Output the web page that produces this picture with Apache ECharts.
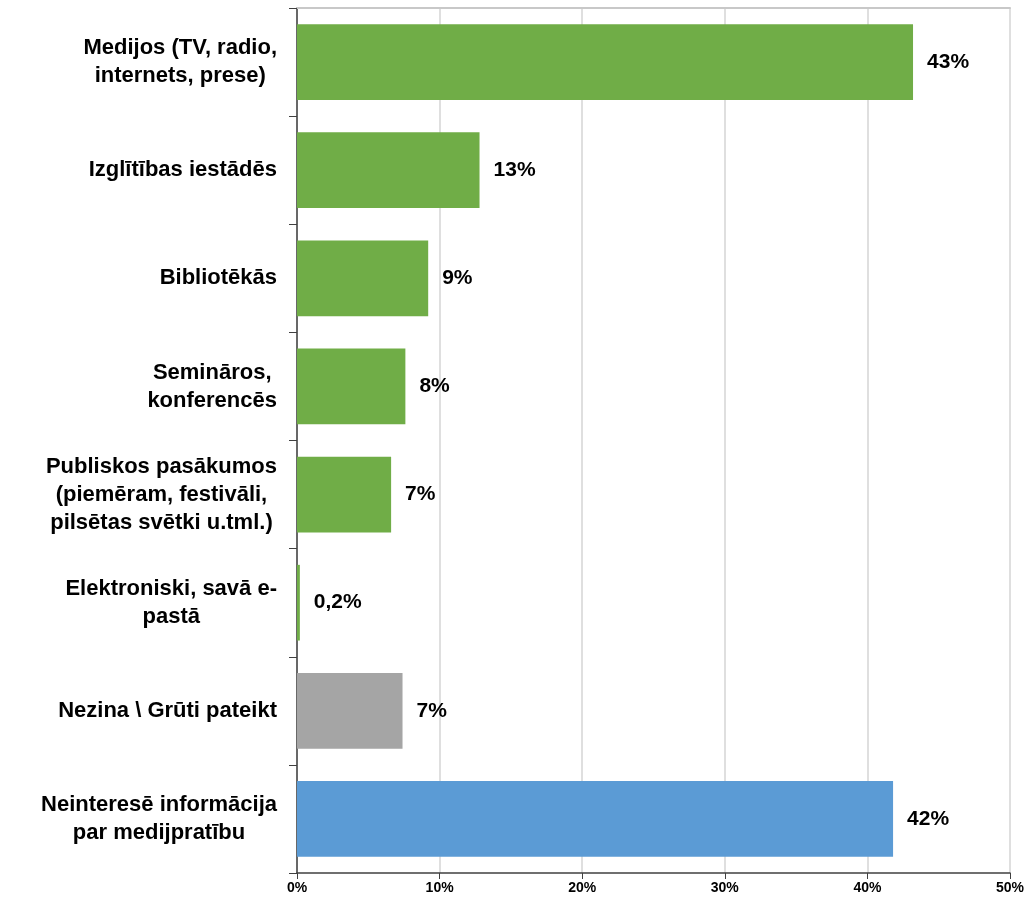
<!DOCTYPE html>
<html>
<head>
<meta charset="utf-8">
<script src="https://cdn.jsdelivr.net/npm/echarts@6/dist/echarts.min.js"></script>
<style>
html,body{margin:0;padding:0;background:#fff;}
#chart{width:1028px;height:899px;}
</style>
</head>
<body>
<div id="chart"></div>
<script>
const categories = [
  "Medijos (TV, radio,\ninternets, prese)",
  "Izglītības iestādēs",
  "Bibliotēkās",
  "Semināros,\nkonferencēs",
  "Publiskos pasākumos\n(piemēram, festivāli,\npilsētas svētki u.tml.)",
  "Elektroniski, savā e-\npastā",
  "Nezina \\ Grūti pateikt",
  "Neinteresē informācija\npar medijpratību"
];
const values = [43.2, 12.8, 9.2, 7.6, 6.6, 0.2, 7.4, 41.8];
const valueLabels = ["43%", "13%", "9%", "8%", "7%", "0,2%", "7%", "42%"];
const barColors = ["#70AD47", "#70AD47", "#70AD47", "#70AD47", "#70AD47", "#70AD47", "#A5A5A5", "#5B9BD5"];
const xTicks = [0, 10, 20, 30, 40, 50];

const chart = echarts.init(document.getElementById('chart'));
const fontFam = "'Liberation Sans', Arial, sans-serif";
chart.setOption({
  animation: false,
  backgroundColor: '#ffffff',
  grid: {left: 297, right: 18, top: 8, bottom: 26, containLabel: false},
  xAxis: [{
    type: 'value',
    min: xTicks[0],
    max: xTicks[xTicks.length - 1],
    interval: xTicks[1] - xTicks[0],
    position: 'bottom',
    axisLine: {show: true, lineStyle: {color: '#404040', width: 1.5}},
    axisTick: {show: true, length: 6, lineStyle: {color: '#404040'}},
    splitLine: {show: true, lineStyle: {color: '#d4d4d4', width: 1.5}},
    axisLabel: {
      formatter: v => v + '%',
      fontFamily: "'Liberation Sans Narrow', 'Liberation Sans', sans-serif",
      fontWeight: 'bold', fontSize: 14, color: '#000', margin: 8
    }
  }, {
    type: 'value',
    min: xTicks[0],
    max: xTicks[xTicks.length - 1],
    position: 'top',
    axisLine: {show: true, lineStyle: {color: '#c8c8c8', width: 2}},
    axisTick: {show: false},
    axisLabel: {show: false},
    splitLine: {show: false}
  }],
  yAxis: {
    type: 'category',
    inverse: true,
    data: categories,
    axisLine: {show: true, lineStyle: {color: '#404040', width: 1.5}},
    axisTick: {show: true, length: 8, lineStyle: {color: '#404040'}},
    axisLabel: {
      align: 'right',
      margin: 20,
      formatter: v => v.split('\n').map(l => '{c|' + l + '}').join('\n'),
      rich: {
        c: {align: 'center', fontFamily: fontFam, fontWeight: 'bold', fontSize: 22, lineHeight: 28, color: '#000'}
      }
    }
  },
  series: [{
    type: 'bar',
    xAxisIndex: 0,
    barCategoryGap: '30%',
    data: values.map((v, i) => ({value: v, itemStyle: {color: barColors[i]}})),
    label: {
      show: true,
      position: 'right',
      distance: 14,
      formatter: p => valueLabels[p.dataIndex],
      fontFamily: fontFam, fontWeight: 'bold', fontSize: 21, color: '#000'
    }
  }]
});
</script>
</body>
</html>
